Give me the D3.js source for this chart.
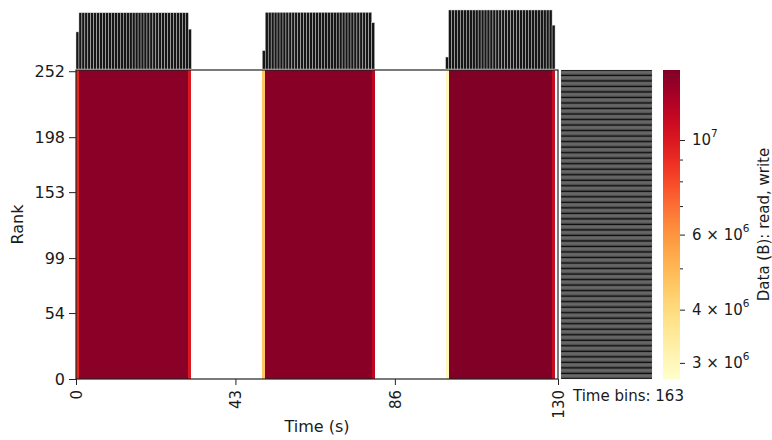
<!DOCTYPE html>
<html>
<head>
<meta charset="utf-8">
<script src="https://cdn.jsdelivr.net/npm/d3@7"></script>
<style>
  body { margin: 0; background: #fff; }
  text { font-family: "DejaVu Sans", sans-serif; fill: #1a1a1a; }
</style>
</head>
<body>
<svg id="chart" width="772" height="440"></svg>
<script>
// Axis tick labels
const timeTicks = [0, 43, 86, 130];
const rankTicks = [0, 54, 99, 153, 198, 252];
const rankCount = 253;
const totalTime = 130;

// Bytes moved per rank in each time bin (millions of bytes), 163 bins
const binMB = [
  9.3,
  14.1, 14.1, 14.1, 14.1, 14.1, 14.1, 14.1, 14.1, 14.1, 14.1,
  14.1, 14.1, 14.1, 14.1, 14.1, 14.1, 14.1, 14.1, 14.1, 14.1,
  14.1, 14.1, 14.1, 14.1, 14.1, 14.1, 14.1, 14.1, 14.1, 14.1,
  14.1, 14.1, 14.1, 14.1, 14.1, 14.1, 14.1,
  10.0,
  0, 0, 0, 0, 0, 0, 0, 0, 0, 0, 0, 0,
  0, 0, 0, 0, 0, 0, 0, 0, 0, 0, 0, 0,
  4.6,
  14.2, 14.2, 14.2, 14.2, 14.2, 14.2, 14.2, 14.2, 14.2, 14.2,
  14.2, 14.2, 14.2, 14.2, 14.2, 14.2, 14.2, 14.2, 14.2, 14.2,
  14.2, 14.2, 14.2, 14.2, 14.2, 14.2, 14.2, 14.2, 14.2, 14.2,
  14.2, 14.2, 14.2, 14.2, 14.2, 14.2,
  11.6,
  0, 0, 0, 0, 0, 0, 0, 0, 0, 0, 0, 0,
  0, 0, 0, 0, 0, 0, 0, 0, 0, 0, 0, 0,
  3.0,
  14.8, 14.8, 14.8, 14.8, 14.8, 14.8, 14.8, 14.8, 14.8, 14.8,
  14.8, 14.8, 14.8, 14.8, 14.8, 14.8, 14.8, 14.8, 14.8, 14.8,
  14.8, 14.8, 14.8, 14.8, 14.8, 14.8, 14.8, 14.8, 14.8, 14.8,
  14.8, 14.8, 14.8, 14.8, 14.8,
  11.0,
  0
];

// Colour range (bytes) and colourbar ticks
const colorMin = 2.75e6;
const colorMax = 1.46e7;
const cbarMajor = [3e6, 4e6, 6e6, 1e7];
const cbarMinor = [5e6, 7e6, 8e6, 9e6];

// ---- layout ----
const heat = { x0: 76, x1: 558, y0: 70, y1: 379 };
const topHist = { y0: 10, y1: 69 };
const sideHist = { x0: 561, x1: 652 };
const cbar = { x0: 663, x1: 680 };
const FONT = 15;

const svg = d3.select("#chart");
const nBins = binMB.length;
const binWidth = totalTime / nBins;
const binBytes = binMB.map(v => v * 1e6);
const ranks = d3.range(rankCount);

const x = d3.scaleLinear().domain([0, totalTime]).range([heat.x0, heat.x1]);
const y = d3.scaleLinear().domain([0, rankCount]).range([heat.y1, heat.y0]);
const color = d3.scaleSequentialLog(d3.interpolateYlOrRd).domain([colorMin, colorMax]).clamp(true);

// ---- heatmap: rank x time bin ----
const cells = [];
ranks.forEach(r => {
  binBytes.forEach((v, i) => { if (v > 0) cells.push({ r, i, v }); });
});
svg.append("g").attr("shape-rendering", "crispEdges")
  .selectAll("rect").data(cells).join("rect")
  .attr("x", d => x(d.i * binWidth))
  .attr("width", d => x((d.i + 1) * binWidth) - x(d.i * binWidth))
  .attr("y", d => y(d.r + 1))
  .attr("height", d => y(d.r) - y(d.r + 1))
  .attr("fill", d => color(d.v));

// frame
svg.append("rect")
  .attr("x", heat.x0).attr("y", heat.y0)
  .attr("width", heat.x1 - heat.x0).attr("height", heat.y1 - heat.y0)
  .attr("fill", "none").attr("stroke", "#222").attr("stroke-width", 1.2);

// ---- top histogram: total over ranks per time bin ----
const binTotals = binBytes.map(v => v * rankCount);
const yTop = d3.scaleLinear().domain([0, d3.max(binTotals)]).range([topHist.y1, topHist.y0]);
svg.append("g")
  .selectAll("rect").data(binTotals.map((v, i) => ({ v, i })).filter(d => d.v > 0)).join("rect")
  .attr("x", d => x(d.i * binWidth))
  .attr("width", d => x((d.i + 1) * binWidth) - x(d.i * binWidth))
  .attr("y", d => yTop(d.v))
  .attr("height", d => yTop(0) - yTop(d.v))
  .attr("fill", "#161616").attr("stroke", "#d8d8d8").attr("stroke-width", 0.45);

// ---- side histogram: total over time per rank ----
const rankTotals = ranks.map(r => ({ r, v: d3.sum(binBytes) }));
const xSide = d3.scaleLinear().domain([0, d3.max(rankTotals, d => d.v)]).range([sideHist.x0, sideHist.x1]);
svg.append("g")
  .selectAll("rect").data(rankTotals).join("rect")
  .attr("x", xSide(0))
  .attr("width", d => xSide(d.v) - xSide(0))
  .attr("y", d => y(d.r + 1))
  .attr("height", d => y(d.r) - y(d.r + 1))
  .attr("fill", "#101010").attr("stroke", "#b8b8b8").attr("stroke-width", 0.22);

// ---- axes ----
const yAxis = svg.append("g")
  .attr("transform", `translate(${heat.x0},0)`)
  .call(d3.axisLeft(y).tickValues(rankTicks).tickSize(7).tickPadding(4));
yAxis.select(".domain").remove();
yAxis.selectAll("text").attr("font-size", 16).attr("fill", "#1a1a1a");
yAxis.selectAll("line").attr("stroke", "#222");

const xAxis = svg.append("g")
  .attr("transform", `translate(0,${heat.y1})`)
  .call(d3.axisBottom(x).tickValues(timeTicks).tickSize(6).tickFormat(d3.format("d")));
xAxis.select(".domain").remove();
xAxis.selectAll("line").attr("stroke", "#222");
xAxis.selectAll("text")
  .attr("font-size", FONT).attr("fill", "#1a1a1a")
  .attr("transform", "rotate(-90)")
  .attr("text-anchor", "end")
  .attr("x", -11).attr("y", 0).attr("dy", "0.35em");

svg.append("text")
  .attr("x", (heat.x0 + heat.x1) / 2).attr("y", 432)
  .attr("text-anchor", "middle").attr("font-size", 16)
  .text("Time (s)");

svg.append("text")
  .attr("transform", `translate(23,${(heat.y0 + heat.y1) / 2}) rotate(-90)`)
  .attr("text-anchor", "middle").attr("font-size", 16)
  .text("Rank");

svg.append("text")
  .attr("x", 573).attr("y", 401).attr("font-size", FONT)
  .text(`Time bins: ${nBins}`);

// ---- colourbar ----
const cY = d3.scaleLog().domain([colorMin, colorMax]).range([heat.y1, heat.y0]);
const grad = svg.append("defs").append("linearGradient")
  .attr("id", "cbarGrad").attr("x1", 0).attr("y1", 1).attr("x2", 0).attr("y2", 0);
d3.range(0, 1.0001, 0.02).forEach(t => {
  grad.append("stop").attr("offset", t).attr("stop-color", d3.interpolateYlOrRd(t));
});
svg.append("rect")
  .attr("x", cbar.x0).attr("y", heat.y0)
  .attr("width", cbar.x1 - cbar.x0).attr("height", heat.y1 - heat.y0)
  .attr("fill", "url(#cbarGrad)");

const cAxis = svg.append("g")
  .attr("transform", `translate(${cbar.x1},0)`)
  .call(d3.axisRight(cY).tickValues(cbarMajor).tickSize(5).tickFormat(""));
cAxis.select(".domain").remove();
cAxis.selectAll("line").attr("stroke", "#222");

const cMinor = svg.append("g")
  .attr("transform", `translate(${cbar.x1},0)`)
  .call(d3.axisRight(cY).tickValues(cbarMinor).tickSize(3).tickFormat(""));
cMinor.select(".domain").remove();
cMinor.selectAll("line").attr("stroke", "#222");

cbarMajor.forEach(v => {
  const e = Math.floor(Math.log10(v) + 1e-9);
  const m = Math.round(v / Math.pow(10, e));
  const t = svg.append("text")
    .attr("x", cbar.x1 + 12).attr("y", cY(v)).attr("dy", "0.35em")
    .attr("font-size", FONT);
  t.append("tspan").text(m === 1 ? "10" : `${m} \u00d7 10`);
  t.append("tspan").attr("font-size", 10.5).attr("dy", "-0.75em").text(e);
});

svg.append("text")
  .attr("transform", `translate(769,${(heat.y0 + heat.y1) / 2}) rotate(-90)`)
  .attr("text-anchor", "middle").attr("font-size", FONT)
  .text("Data (B): read, write");
</script>
</body>
</html>
